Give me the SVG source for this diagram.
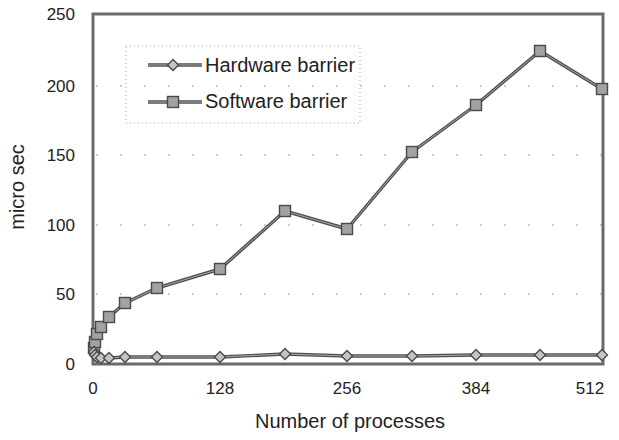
<svg xmlns="http://www.w3.org/2000/svg" width="619" height="440" viewBox="0 0 619 440">
  <style>
    .lbl { font-family: "Liberation Sans", Arial, sans-serif; fill: #222; }
    .tick { font-size: 17px; }
    .title { font-size: 20px; }
    .grid { stroke: #9a9a9a; stroke-width: 1; stroke-dasharray: 2 22; fill: none; }
    .frame { fill: none; stroke: #6a6a6a; stroke-width: 3; }
    .lineOuter { fill: none; stroke: #505050; stroke-width: 3.4; stroke-linejoin: round; }
    .lineInner { fill: none; stroke: #a8a8a8; stroke-width: 1; stroke-linejoin: round; }
    .legendBox { fill: none; stroke: #a0a0a0; stroke-width: 1; stroke-dasharray: 1 3; }
  </style>
  <defs>
    <g id="diamond">
      <path d="M0,-5.5 L5.5,0 L0,5.5 L-5.5,0 Z" fill="#c4c4c4" stroke="#4a4a4a" stroke-width="1.4"/>
    </g>
    <g id="square">
      <rect x="-5.5" y="-5.5" width="11" height="11" fill="#a2a2a2" stroke="#4a4a4a" stroke-width="1.4"/>
    </g>
  </defs>

  <rect width="619" height="440" fill="#ffffff"/>

  <!-- horizontal grid at 50, 100, 150, 200 -->
  <g id="grid">
    <line class="grid" x1="96" y1="294" x2="602" y2="294"/>
    <line class="grid" x1="96" y1="225" x2="602" y2="225"/>
    <line class="grid" x1="96" y1="155" x2="602" y2="155"/>
    <line class="grid" x1="96" y1="86" x2="602" y2="86"/>
  </g>

  <!-- plot frame -->
  <rect class="frame" x="93" y="14" width="510" height="350"/>

  <!-- y axis labels -->
  <g id="y-axis" class="lbl tick" text-anchor="end">
    <text x="75" y="20">250</text>
    <text x="75" y="92">200</text>
    <text x="75" y="161">150</text>
    <text x="75" y="231">100</text>
    <text x="75" y="300">50</text>
    <text x="75" y="370">0</text>
  </g>

  <!-- x axis labels -->
  <g id="x-axis" class="lbl tick" text-anchor="middle">
    <text x="93" y="394">0</text>
    <text x="220" y="394">128</text>
    <text x="347" y="394">256</text>
    <text x="476" y="394">384</text>
    <text x="590" y="394">512</text>
  </g>

  <text class="lbl title" x="350" y="428" text-anchor="middle">Number of processes</text>
  <text class="lbl title" transform="translate(24,187) rotate(-90)" text-anchor="middle">micro sec</text>

  <g id="connectors">
    <!-- Software barrier series -->
    <polyline class="lineOuter" points="94,348 95,342 97,334 101,327 109,317 125,303 157,288 220,269 285,211 347,229 412,152 476,105 540,51 602,89"/>
    <polyline class="lineInner" points="94,348 95,342 97,334 101,327 109,317 125,303 157,288 220,269 285,211 347,229 412,152 476,105 540,51 602,89"/>
    <!-- Hardware barrier series -->
    <polyline class="lineOuter" points="94,352 95,355 97,357 101,358 109,358 125,357 157,357 220,357 285,354 347,356 412,356 476,355 540,355 602,355"/>
    <polyline class="lineInner" points="94,352 95,355 97,357 101,358 109,358 125,357 157,357 220,357 285,354 347,356 412,356 476,355 540,355 602,355"/>
  </g>

  <g id="software-points">
    <use href="#square" x="94" y="348"/>
    <use href="#square" x="95" y="342"/>
    <use href="#square" x="97" y="334"/>
    <use href="#square" x="101" y="327"/>
    <use href="#square" x="109" y="317"/>
    <use href="#square" x="125" y="303"/>
    <use href="#square" x="157" y="288"/>
    <use href="#square" x="220" y="269"/>
    <use href="#square" x="285" y="211"/>
    <use href="#square" x="347" y="229"/>
    <use href="#square" x="412" y="152"/>
    <use href="#square" x="476" y="105"/>
    <use href="#square" x="540" y="51"/>
    <use href="#square" x="602" y="89"/>
  </g>

  <g id="hardware-points">
    <use href="#diamond" x="94" y="352"/>
    <use href="#diamond" x="95" y="355"/>
    <use href="#diamond" x="97" y="357"/>
    <use href="#diamond" x="101" y="358"/>
    <use href="#diamond" x="109" y="358"/>
    <use href="#diamond" x="125" y="357"/>
    <use href="#diamond" x="157" y="357"/>
    <use href="#diamond" x="220" y="357"/>
    <use href="#diamond" x="285" y="354"/>
    <use href="#diamond" x="347" y="356"/>
    <use href="#diamond" x="412" y="356"/>
    <use href="#diamond" x="476" y="355"/>
    <use href="#diamond" x="540" y="355"/>
    <use href="#diamond" x="602" y="355"/>
  </g>

  <!-- legend -->
  <g id="legend">
    <rect class="legendBox" x="126" y="46" width="234" height="77"/>
    <g id="legend-hardware">
      <line class="lineOuter" x1="148" y1="65" x2="202" y2="65"/>
      <line class="lineInner" x1="148" y1="65" x2="202" y2="65"/>
      <use href="#diamond" x="173" y="65"/>
      <text class="lbl title" x="205" y="72">Hardware barrier</text>
    </g>
    <g id="legend-software">
      <line class="lineOuter" x1="148" y1="102" x2="202" y2="102"/>
      <line class="lineInner" x1="148" y1="102" x2="202" y2="102"/>
      <use href="#square" x="173" y="102"/>
      <text class="lbl title" x="205" y="108">Software barrier</text>
    </g>
  </g>
</svg>
